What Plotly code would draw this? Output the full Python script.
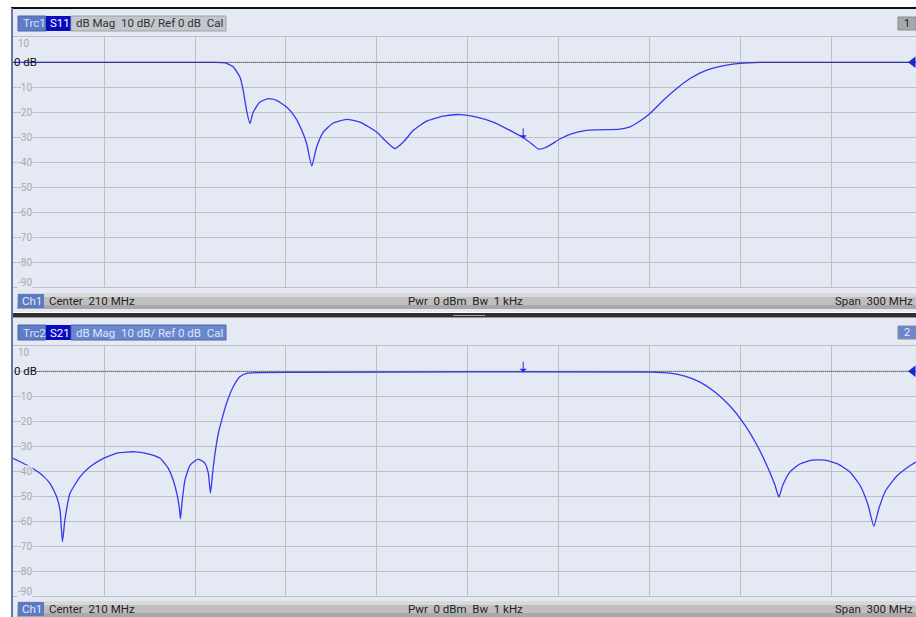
import plotly.graph_objects as go

# ---------------- data ----------------
W, H = 916, 617
F_START, F_STOP = 60.0, 357.7          # visible part of 60..360 MHz (right edge cropped)
X_GRID_STEP = 30                        # MHz per division
Y_TICKS = [10, 0, -10, -20, -30, -40, -50, -60, -70, -80, -90]
Y_LABELS = ["10", "0 dB", "-10", "-20", "-30", "-40", "-50", "-60", "-70", "-80", "-90"]

s11_freq = [60.0, 126.6, 129.9, 131.0, 132.6, 134.8, 135.9, 137.0, 138.1, 139.2, 141.4, 144.2,
            146.9, 150.2, 153.0, 155.2, 156.8, 158.5, 160.1, 162.3, 165.6, 170.0, 174.4,
            179.9, 183.2, 185.9, 188.7, 192.0, 196.4, 201.9, 207.4, 212.9, 218.3, 223.8,
            228.2, 231.5, 233.2, 235.9, 240.3, 243.6, 249.1, 253.5, 260.1, 263.4, 266.7,
            270.0, 274.4, 278.8, 283.2, 288.7, 295.3, 299.7, 306.3, 357.7]
s11_db = [0.0, 0.0, -0.2, -0.7, -1.8, -5.9, -11.2, -19.2, -24.5, -19.9, -15.9, -14.5,
          -15.2, -17.9, -21.9, -27.2, -32.5, -41.5, -33.9, -27.9, -24.3, -22.8, -23.9,
          -27.9, -31.9, -34.5, -31.9, -27.2, -23.5, -21.5, -20.9, -21.9, -23.9, -27.2,
          -30.1, -33.1, -34.7, -33.9, -30.7, -28.8, -27.2, -27.0, -26.7, -25.8, -23.5,
          -20.5, -15.2, -10.5, -6.5, -3.1, -1.1, -0.4, 0.0, 0.0]

s21_freq = [60.0, 64.5, 68.9, 72.2, 74.4, 75.5, 76.3, 77.1, 78.8, 82.1, 85.4, 89.8, 94.7,
            100.2, 105.2, 108.5, 111.2, 112.8, 114.0, 114.8, 115.2, 115.8, 116.7, 118.4,
            121.1, 123.3, 124.4, 125.1, 125.8, 126.6, 127.7, 128.8, 130.4, 132.6, 134.8,
            137.0, 141.4, 157.9, 270.0, 276.6, 281.5, 286.5, 291.4, 296.4, 301.3, 305.6,
            308.9, 311.2, 312.5, 313.8, 316.1, 319.4, 323.4, 327.7, 332.0, 335.9, 339.2,
            341.9, 343.8, 345.5, 347.8, 351.4, 355.1, 357.7]
s21_db = [-34.8, -37.5, -40.8, -44.8, -50.2, -55.5, -68.2, -59.5, -48.8, -42.2, -38.2, -34.8,
          -32.6, -32.2, -33.2, -34.8, -38.8, -43.5, -48.8, -54.2, -59.0, -51.5, -43.5, -37.5,
          -35.1, -36.8, -40.8, -48.8, -40.8, -32.8, -24.8, -19.5, -12.8, -6.2, -2.2,
          -0.8, -0.5, -0.4, -0.3, -0.7, -1.9, -4.3, -8.3, -13.9, -21.5, -30.3,
          -38.7, -45.5, -50.3, -45.5, -40.3, -37.1, -35.5, -35.5, -37.1, -40.3, -45.5,
          -53.5, -62.0, -54.7, -47.5, -41.9, -38.3, -36.3]

marker_freq = 228.2
s11_marker_db = -30.6
s21_marker_db = -0.4
ref_level_db = 0
ref_arrow_freq = 356.7

trace_names = ["Trc1", "Trc2"]
params = ["S11", "S21"]
header_rest = "dB Mag\u00a0\u00a010 dB/ Ref 0 dB\u00a0\u00a0Cal"
status_left = "Center\u00a0\u00a0210 MHz"
status_mid = "Pwr\u00a0\u00a00 dBm\u00a0\u00a0Bw\u00a0\u00a01 kHz"
status_right = "Span\u00a0\u00a0300 MHz"
channel = "Ch1"
window_ids = ["1", "2"]

# ---------------- styling ----------------
BG = "#E4E9F3"
GRID = "#BCC0C9"
TRACE = "#3838EE"
FONT = "Roboto"

def px(x):
    return x / W

def py(y):
    return 1 - y / H

fig = go.Figure()
fig.add_trace(go.Scatter(x=s11_freq, y=s11_db, xaxis="x", yaxis="y", mode="lines",
                         line=dict(color=TRACE, width=1.3, shape="spline", smoothing=0.5),
                         hoverinfo="skip"))
fig.add_trace(go.Scatter(x=s21_freq, y=s21_db, xaxis="x2", yaxis="y2", mode="lines",
                         line=dict(color=TRACE, width=1.3, shape="spline", smoothing=0.5),
                         hoverinfo="skip"))
for xa, ya in [("x", "y"), ("x2", "y2")]:
    fig.add_trace(go.Scatter(x=[ref_arrow_freq], y=[ref_level_db], xaxis=xa, yaxis=ya,
                             mode="markers", cliponaxis=False,
                             marker=dict(symbol="triangle-left", size=10, color="#1428E6"),
                             hoverinfo="skip"))

panels = [  # (top px, bottom px) of grid area
    (37.3, 287.3),
    (346.3, 596.3),
]
axis_common = dict(showgrid=True, gridcolor=GRID, gridwidth=1, zeroline=False,
                   showticklabels=False, ticks="", showline=True, linecolor=GRID,
                   mirror=True)
layout = dict(
    width=W, height=H, margin=dict(l=0, r=0, t=0, b=0),
    paper_bgcolor="white", plot_bgcolor="rgba(0,0,0,0)", showlegend=False,
    font=dict(family=FONT, size=11),
)
for i, (t, b) in enumerate(panels):
    sfx = "" if i == 0 else str(i + 1)
    layout["xaxis" + sfx] = dict(domain=[px(13), 1], range=[F_START, F_STOP],
                                 tick0=F_START, dtick=X_GRID_STEP, anchor="y" + sfx, **axis_common)
    layout["yaxis" + sfx] = dict(domain=[py(b), py(t)], range=[Y_TICKS[-1], Y_TICKS[0]],
                                 dtick=10, anchor="x" + sfx, **axis_common)
fig.update_layout(**layout)

shapes = []
ann = []

def rect(x0, y0, x1, y1, fill, line=None, layer="below"):
    shapes.append(dict(type="rect", xref="paper", yref="paper", x0=px(x0), x1=px(x1),
                       y0=py(y1), y1=py(y0), fillcolor=fill, layer=layer,
                       line=dict(width=1 if line else 0, color=line or fill)))

def text(x, y, s, color, size=11, anchor="left", bg=None):
    ann.append(dict(xref="paper", yref="paper", x=px(x), y=py(y), text=s, showarrow=False,
                    xanchor=anchor, yanchor="middle", font=dict(color=color, size=size, family=FONT),
                    bgcolor=bg, borderpad=0))

# panel backgrounds
rect(11, 9, 916, 312, BG)
rect(11, 318, 916, 617, BG)
# top frame line and left border
shapes.append(dict(type="line", xref="paper", yref="paper", x0=px(11), x1=1, y0=py(8), y1=py(8),
                   line=dict(color="#111111", width=2)))
shapes.append(dict(type="line", xref="paper", yref="paper", x0=px(12), x1=px(12), y0=py(8), y1=0,
                   line=dict(color="#6478A8", width=2)))
# separator between windows
rect(11, 313, 916, 317.5, "#2E2E2E")
rect(453, 315, 485, 316, "#A0A0A0", layer="above")

header_y = [(16, 31), (325, 340)]
status_y = [(293, 309), (601, 617)]
for i in range(2):
    t0, t1 = header_y[i]
    active = (i == 1)
    # trace badge
    rect(18, t0, 46, t1, "#5E7CC6", line="#4A64A8")
    rect(46, t0, 71, t1, "#0A0AC0")
    rect(71, t0, 226, t1, "#6A86CC" if active else "#C3C6CC", line="#4A64A8" if active else "#9EA2AA")
    ym = (t0 + t1) / 2
    text(22, ym, trace_names[i], "#D8E2F6", size=11.5)
    text(49, ym, params[i], "#FFFFFF", size=11.5)
    text(75, ym, header_rest, "#DDE6FA" if active else "#303030", size=11.5)
    # window id badge
    rect(898, t0 + 1, 916, t1 - 1, "#6A86CC" if active else "#A6A8AC", line="#8A8C90")
    text(907, ym, window_ids[i], "#E8EEFA" if active else "#1E1E1E", anchor="center")
    # status bar
    s0, s1 = status_y[i]
    rect(17, s0, 916, s0 + 4, "#D9D9D9")
    rect(17, s0 + 4, 916, s1 - 4, "#BFBFBF")
    rect(17, s1 - 4, 916, s1, "#A9A9A9")
    rect(18, s0 + 1, 44, s1 - 1, "#5A7AC2")
    sm = (s0 + s1) / 2
    text(21, sm, channel, "#E3EAF8", size=11.5)
    text(48, sm, status_left, "#222222", size=11.5)
    text(465, sm, status_mid, "#222222", anchor="center", size=11.5)
    text(914, sm, status_right, "#222222", anchor="right", size=11.5)

# y tick labels and reference lines
for i in range(2):
    sfx = "" if i == 0 else str(i + 1)
    for v, lab in zip(Y_TICKS, Y_LABELS):
        if v == ref_level_db:
            ann.append(dict(xref="x" + sfx + " domain", yref="y" + sfx, x=0, y=v, text=lab,
                            showarrow=False, xanchor="left", yanchor="middle",
                            font=dict(color="#111111", size=11.5, family=FONT), xshift=-1))
            continue
        shift = -6 if v == Y_TICKS[0] else (5 if v == Y_TICKS[-1] else 0)
        ann.append(dict(xref="x" + sfx + " domain", yref="y" + sfx, x=0, y=v, text=lab,
                        showarrow=False, xanchor="left", yanchor="middle", xshift=4, yshift=shift,
                        font=dict(color="#A4A9B2", size=10, family=FONT), bgcolor=BG, borderpad=0))
    shapes.append(dict(type="line", xref="x" + sfx, yref="y" + sfx, x0=F_START + 8, x1=F_STOP,
                       y0=ref_level_db, y1=ref_level_db, layer="above",
                       line=dict(color="#333333", width=1, dash="1px,1px")))

# markers
for sfx, val in [("", s11_marker_db), ("2", s21_marker_db)]:
    ann.append(dict(xref="x" + sfx, yref="y" + sfx, x=marker_freq, y=val, text="",
                    showarrow=True, ax=0, ay=-12, arrowhead=1, arrowsize=1.2, arrowwidth=1,
                    arrowcolor="#2A2AE8", standoff=0))

fig.update_layout(shapes=shapes, annotations=ann)
fig.write_html("out.html", config={"displayModeBar": False},
               post_script="document.body.style.margin='0';document.body.style.overflow='hidden';")
